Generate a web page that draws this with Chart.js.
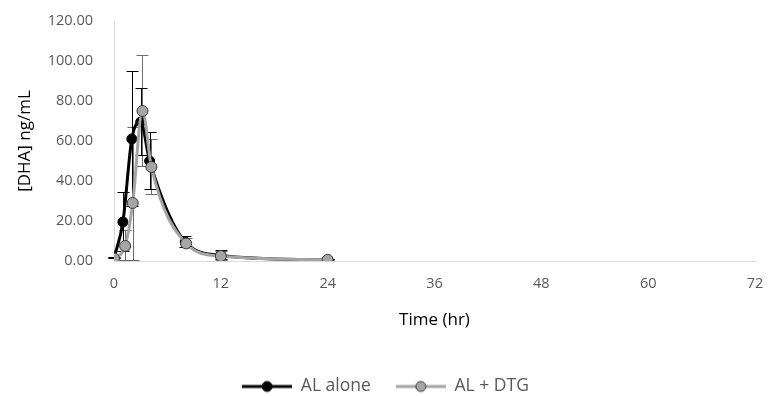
<!DOCTYPE html>
<html>
<head>
<meta charset="utf-8">
<script src="https://cdn.jsdelivr.net/npm/chart.js@4/dist/chart.umd.min.js"></script>
<style>
  html, body { margin: 0; padding: 0; background: #fff; }
  #wrap { width: 768px; height: 396px; }
</style>
</head>
<body>
<div id="wrap"><canvas id="c" width="768" height="396"></canvas></div>
<script>
// ---- data ----
const timesAlone = [0, 1, 2, 3, 4, 8, 12, 24];
const alAlone    = [1.5, 19.5, 61, 69.5, 50, 9.5, 2.8, 0.5];
const alAloneSD  = [0.5, 15, 34, 17, 14.5, 3, 2.5, 0.3];

const timesDtg   = [0, 1.25, 2.1, 3.2, 4.2, 8.1, 12, 24];
const alDtg      = [1.3, 7.5, 29, 75, 47, 8.8, 2.5, 0.6];
const alDtgSD    = [0.5, 8, 38, 28, 14, 2.5, 2.5, 0.3];

const xTicks = [0, 12, 24, 36, 48, 60, 72];
const yTicks = [0, 20, 40, 60, 80, 100, 120];

const seriesNames = ['AL alone', 'AL + DTG'];

function pts(xs, ys) { return xs.map((x, i) => ({ x: x, y: ys[i] })); }

function legendIcon(lineColor, fill, border) {
  const cv = document.createElement('canvas');
  cv.width = 50; cv.height = 14;
  const g = cv.getContext('2d');
  g.strokeStyle = lineColor; g.lineWidth = 3;
  g.beginPath(); g.moveTo(0, 7); g.lineTo(50, 7); g.stroke();
  g.beginPath(); g.arc(25, 7, 5, 0, Math.PI * 2);
  g.fillStyle = fill; g.fill();
  g.lineWidth = 1; g.strokeStyle = border; g.stroke();
  return cv;
}

const errorBars = {
  id: 'errorBars',
  beforeDatasetsDraw(chart) {
    const ctx = chart.ctx;
    const xs = chart.scales.x, ys = chart.scales.y;
    chart.data.datasets.forEach(ds => {
      const sd = ds.sd;
      ctx.save();
      ctx.strokeStyle = ds.errColor;
      ctx.lineWidth = 1;
      ds.data.forEach((p, i) => {
        const px = Math.round(xs.getPixelForValue(p.x)) + 0.5;
        const hiV = p.y + sd[i], loV = Math.max(0, p.y - sd[i]);
        const top = ys.getPixelForValue(hiV);
        const bot = ys.getPixelForValue(loV);
        ctx.beginPath();
        ctx.moveTo(px, top); ctx.lineTo(px, bot);
        ctx.moveTo(px - 6, Math.round(top) + 0.5); ctx.lineTo(px + 6, Math.round(top) + 0.5);
        ctx.moveTo(px - 6, Math.round(bot) - 0.5); ctx.lineTo(px + 6, Math.round(bot) - 0.5);
        ctx.stroke();
      });
      ctx.restore();
    });
  }
};

// place the legend row so its centre sits at a fixed height, centred on the canvas
const legendPlace = {
  id: 'legendPlace',
  afterLayout(chart) {
    const L = chart.legend;
    if (!L) return;
    const h = L.height;
    L.top = 379 - h / 2;
    L.bottom = L.top + h;
    L.left += 8;
    L.right += 8;
  }
};

const FONT = "'Open Sans', 'Liberation Sans', sans-serif";
const PLOT_BOTTOM = 261;

new Chart(document.getElementById('c'), {
  type: 'scatter',
  data: {
    datasets: [
      {
        label: seriesNames[1],
        data: pts(timesDtg, alDtg),
        sd: alDtgSD,
        errColor: '#6b6b6b',
        showLine: true,
        borderColor: '#a5a5a5',
        borderWidth: 3,
        backgroundColor: '#a5a5a5',
        pointStyle: 'circle',
        pointBackgroundColor: '#a5a5a5',
        pointBorderColor: '#3a3a3a',
        pointBorderWidth: 1,
        pointRadius: 5.5,
        cubicInterpolationMode: 'monotone',
        legendIcon: legendIcon('#a5a5a5', '#a5a5a5', '#3a3a3a')
      },
      {
        label: seriesNames[0],
        data: pts(timesAlone, alAlone),
        sd: alAloneSD,
        errColor: '#000000',
        showLine: true,
        borderColor: '#000000',
        borderWidth: 3,
        backgroundColor: '#000000',
        pointStyle: 'circle',
        pointBackgroundColor: '#000000',
        pointBorderColor: '#000000',
        pointBorderWidth: 1,
        pointRadius: 5,
        cubicInterpolationMode: 'monotone',
        legendIcon: legendIcon('#000000', '#000000', '#000000')
      }
    ]
  },
  options: {
    responsive: false,
    animation: false,
    layout: { padding: { left: 0, right: 13, top: 21, bottom: 0 } },
    plugins: {
      tooltip: { enabled: false },
      legend: {
        position: 'bottom',
        reverse: true,
        labels: {
          usePointStyle: true,
          pointStyleWidth: 50,
          boxHeight: 14,
          padding: 25,
          color: '#595959',
          font: { family: FONT, size: 17.5 },
          generateLabels(chart) {
            return chart.data.datasets.map((ds, i) => ({
              text: ds.label,
              pointStyle: ds.legendIcon,
              fillStyle: ds.borderColor,
              strokeStyle: ds.borderColor,
              lineWidth: 0,
              hidden: false,
              datasetIndex: i,
              fontColor: '#595959'
            }));
          }
        }
      }
    },
    scales: {
      x: {
        type: 'linear',
        min: 0, max: 72,
        afterBuildTicks(s) { s.ticks = xTicks.map(v => ({ value: v })); },
        afterFit(s) {
          const lh = s.chart.legend ? s.chart.legend.height : 0;
          s.height = 396 - PLOT_BOTTOM - lh;
          s.paddingLeft = 0; s.paddingRight = 0;
          s.options.title.padding = { top: 0, bottom: (396 - lh) - 320 - 10 };
        },
        grid: { display: false, drawTicks: false },
        border: { display: true, color: '#d9d9d9', width: 1 },
        ticks: { color: '#595959', font: { family: FONT, size: 14.5 }, padding: 14, maxRotation: 0 },
        title: {
          display: true, text: 'Time (hr)', color: '#000000',
          font: { family: FONT, size: 17 }, padding: { top: 0, bottom: 0 }
        }
      },
      y: {
        type: 'linear',
        min: 0, max: 120,
        afterBuildTicks(s) { s.ticks = yTicks.map(v => ({ value: v })); },
        afterFit(s) { s.width = 114; s.paddingTop = 0; s.paddingBottom = 0; },
        grid: { display: false, drawTicks: false },
        border: { display: true, color: '#d9d9d9', width: 1 },
        ticks: {
          color: '#595959', font: { family: FONT, size: 14.5 }, padding: 21,
          callback: v => Number(v).toFixed(2)
        },
        title: {
          display: true, text: '[DHA] ng/mL', color: '#000000',
          font: { family: FONT, size: 17 }, padding: { top: 15, bottom: 0 }
        }
      }
    }
  },
  plugins: [errorBars, legendPlace]
});
</script>
</body>
</html>
